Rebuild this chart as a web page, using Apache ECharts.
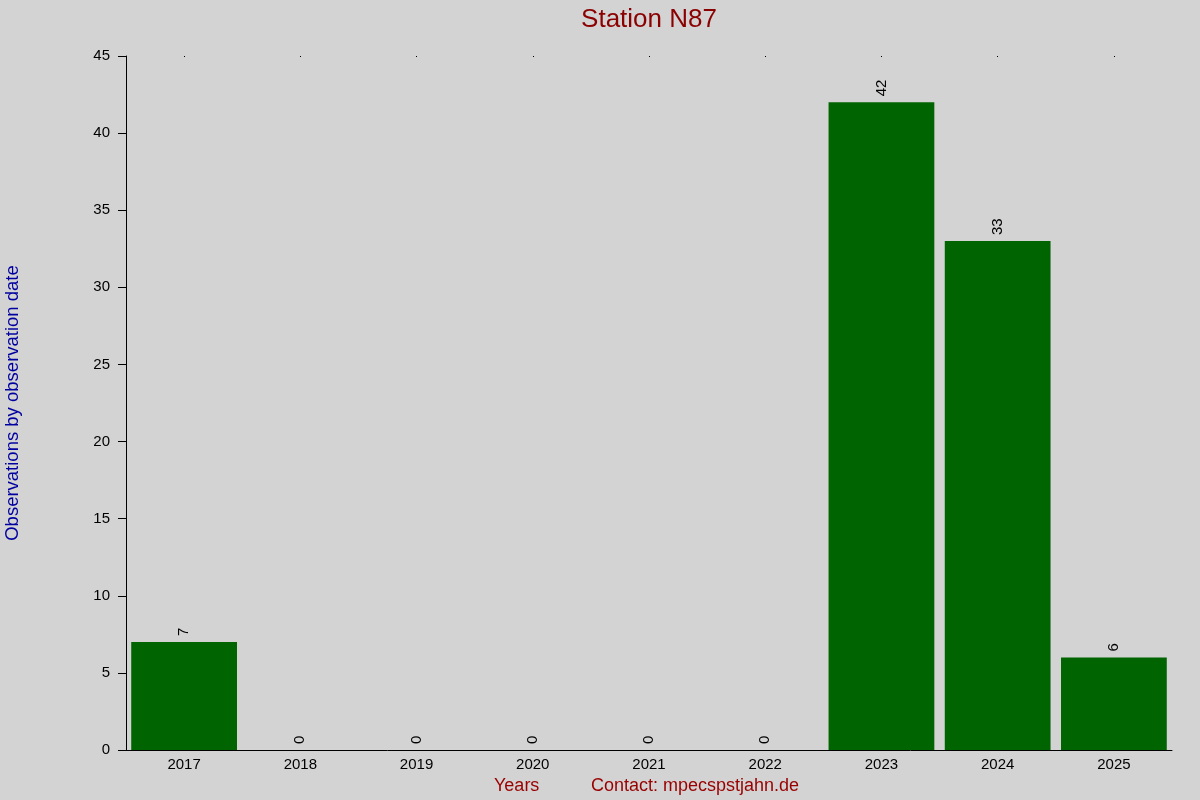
<!DOCTYPE html>
<html>
<head>
<meta charset="utf-8">
<title>Station N87</title>
<script src="https://cdn.jsdelivr.net/npm/echarts@6/dist/echarts.min.js"></script>
<style>
  html, body { margin: 0; padding: 0; background: #d3d3d3; }
  #chart { width: 1200px; height: 800px; }
</style>
</head>
<body>
<div id="chart"></div>
<script>
// chart data
const years = ['2017', '2018', '2019', '2020', '2021', '2022', '2023', '2024', '2025'];
const observations = [7, 0, 0, 0, 0, 0, 42, 33, 6];
const yTicks = { min: 0, max: 45, step: 5 };

const FONT = '"Liberation Sans", Arial, sans-serif';

const chart = echarts.init(document.getElementById('chart'));

const option = {
  backgroundColor: '#d3d3d3',
  animation: false,
  title: {
    text: 'Station N87',
    left: 644,
    textAlign: 'center',
    top: 2,
    textStyle: { color: '#8b0000', fontSize: 26, fontWeight: 'normal', fontFamily: FONT }
  },
  grid: { left: 126, right: 28, top: 56, bottom: 50, containLabel: false, outerBoundsMode: 'none' },
  xAxis: [
    {
      type: 'category',
      data: years,
      axisLine: { show: true, lineStyle: { color: '#000', width: 1 } },
      axisTick: { show: false },
      axisLabel: { color: '#000', fontSize: 15, fontFamily: FONT, margin: 7 }
    },
    {
      // tiny dots along the top edge
      type: 'category',
      data: years,
      position: 'top',
      axisLine: { show: false },
      axisTick: { show: true, alignWithLabel: true, inside: true, length: 1, lineStyle: { color: '#000' } },
      axisLabel: { show: false }
    }
  ],
  yAxis: {
    type: 'value',
    min: yTicks.min,
    max: yTicks.max,
    interval: yTicks.step,
    name: 'Observations by observation date',
    nameLocation: 'middle',
    nameGap: 104,
    nameTextStyle: { color: '#0000a0', fontSize: 18.5, fontFamily: FONT },
    axisLine: { show: true, lineStyle: { color: '#000', width: 1 } },
    axisTick: { show: true, length: 8, lineStyle: { color: '#000' } },
    axisLabel: { color: '#000', fontSize: 15, fontFamily: FONT, margin: 16 },
    splitLine: { show: false }
  },
  series: [
    {
      type: 'bar',
      data: observations,
      xAxisIndex: 0,
      barCategoryGap: '9%',
      itemStyle: { color: '#006400' },
      label: {
        show: true,
        position: 'top',
        rotate: 90,
        align: 'left',
        verticalAlign: 'middle',
        distance: 6,
        color: '#000',
        fontSize: 15,
        fontFamily: FONT
      }
    }
  ],
  graphic: [
    {
      type: 'text',
      left: 494,
      top: 777,
      style: { text: 'Years', fill: '#990000', fontSize: 18, fontFamily: FONT }
    },
    {
      type: 'text',
      left: 591,
      top: 777,
      style: { text: 'Contact: mpecspstjahn.de', fill: '#990000', fontSize: 18, fontFamily: FONT }
    }
  ]
};

chart.setOption(option);
</script>
</body>
</html>
